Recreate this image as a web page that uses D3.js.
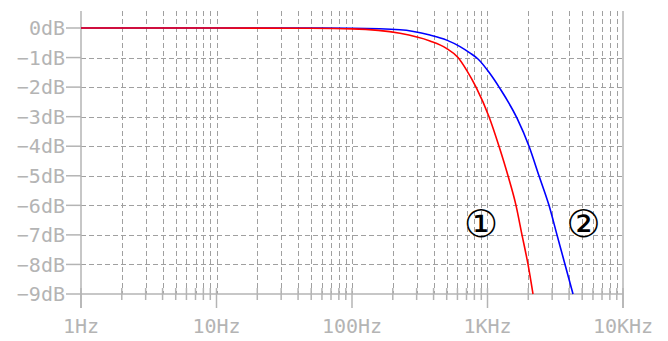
<!DOCTYPE html>
<html>
<head>
<meta charset="utf-8">
<script src="https://cdn.jsdelivr.net/npm/d3@7"></script>
<style>
    body { margin: 0; background: #fff; }
    svg { display: block; }
    .label { font-family: "DejaVu Sans Mono", monospace; font-size: 20px; fill: #b4b4b4; }
    .marker { font-family: "DejaVu Sans", sans-serif; font-size: 38px; fill: #000; }
</style>
</head>
<body>
<svg id="chart" width="668" height="341"></svg>
<script>
// decade ticks on the frequency axis
const freqTicks = [1, 10, 100, 1000, 10000];
const freqLabels = ["1Hz", "10Hz", "100Hz", "1KHz", "10KHz"];
const dbTicks = [0, -1, -2, -3, -4, -5, -6, -7, -8, -9];
const dbLabels = ["0dB", "\u22121dB", "\u22122dB", "\u22123dB", "\u22124dB", "\u22125dB", "\u22126dB", "\u22127dB", "\u22128dB", "\u22129dB"];

// curve 1 (red)
const freq1 = [1, 10, 50, 100, 226, 376, 494, 606, 706, 823, 1026, 1216, 1417, 1623, 1797, 1991, 2167];
const db1 = [0, 0, -0.01, -0.03, -0.18, -0.44, -0.68, -1, -1.45, -2, -3, -4, -5, -6, -7, -8, -9];

// curve 2 (blue)
const freq2 = [1, 10, 50, 100, 226, 376, 500, 627, 745, 851, 1026, 1237, 1651, 2025, 2399, 2843, 3257, 3733, 4276];
const db2 = [0, 0, 0, -0.01, -0.06, -0.24, -0.41, -0.63, -0.85, -1.05, -1.5, -2.05, -3.05, -4, -5, -6, -7, -8, -9];

const markerLabels = ["\u2460", "\u2461"];
const markerFreq = [896, 5110];
const markerDb = [-6.63, -6.63];

const svg = d3.select("#chart");

const LEFT = 81, RIGHT = 623, TOP = 28, BOTTOM = 294;
const GRID_TOP = 11, AXIS_BOTTOM = 308;

const x = d3.scaleLog().domain([1, 10000]).range([LEFT, RIGHT]);
const y = d3.scaleLinear().domain([0, -9]).range([TOP, BOTTOM]);

// all 1..9 x 10^k positions
const minorTicks = [];
for (let k = 0; k < 4; k++) {
    for (let m = 1; m < 10; m++) minorTicks.push(m * Math.pow(10, k));
}

const gridG = svg.append("g").attr("class", "grid");
const axisG = svg.append("g").attr("class", "axis");
const curveG = svg.append("g").attr("class", "curves");

gridG.selectAll("line.v").data(minorTicks.filter(d => d > 1)).enter()
    .append("line")
    .attr("class", "v")
    .attr("x1", d => Math.round(x(d)) + 0.5)
    .attr("x2", d => Math.round(x(d)) + 0.5)
    .attr("y1", GRID_TOP)
    .attr("y2", BOTTOM)
    .attr("stroke", "#a0a0a0")
    .attr("stroke-dasharray", "5,3");

gridG.selectAll("line.h").data(dbTicks.filter(d => d < 0 && d > -9)).enter()
    .append("line")
    .attr("class", "h")
    .attr("x1", LEFT)
    .attr("x2", RIGHT)
    .attr("y1", d => Math.round(y(d)) + 0.5)
    .attr("y2", d => Math.round(y(d)) + 0.5)
    .attr("stroke", "#a0a0a0")
    .attr("stroke-dasharray", "5,3");

const axisColor = "#b4b4b4";

// frame lines
axisG.append("line").attr("x1", LEFT).attr("x2", LEFT).attr("y1", GRID_TOP).attr("y2", AXIS_BOTTOM)
    .attr("stroke", axisColor).attr("stroke-width", 1.5);
axisG.append("line").attr("x1", RIGHT).attr("x2", RIGHT).attr("y1", GRID_TOP).attr("y2", AXIS_BOTTOM)
    .attr("stroke", axisColor).attr("stroke-width", 1.5);
axisG.append("line").attr("x1", LEFT).attr("x2", RIGHT).attr("y1", y(-9)).attr("y2", y(-9))
    .attr("stroke", axisColor).attr("stroke-width", 1.5);

// minor ticks on the frequency axis
axisG.selectAll("line.xminor").data(minorTicks.filter(d => freqTicks.indexOf(d) < 0)).enter()
    .append("line")
    .attr("class", "xminor")
    .attr("x1", d => x(d)).attr("x2", d => x(d))
    .attr("y1", BOTTOM - 6).attr("y2", BOTTOM + 6)
    .attr("stroke", axisColor).attr("stroke-width", 1.5);

axisG.selectAll("line.xmajor").data(freqTicks).enter()
    .append("line")
    .attr("class", "xmajor")
    .attr("x1", d => x(d)).attr("x2", d => x(d))
    .attr("y1", BOTTOM - 6).attr("y2", AXIS_BOTTOM)
    .attr("stroke", axisColor).attr("stroke-width", 1.5);

axisG.selectAll("text.xlabel").data(freqTicks).enter()
    .append("text")
    .attr("class", "label xlabel")
    .attr("x", d => x(d))
    .attr("y", 333)
    .attr("text-anchor", "middle")
    .text((d, i) => freqLabels[i]);

axisG.selectAll("line.ytick").data(dbTicks).enter()
    .append("line")
    .attr("class", "ytick")
    .attr("x1", LEFT - 15).attr("x2", LEFT)
    .attr("y1", d => y(d)).attr("y2", d => y(d))
    .attr("stroke", axisColor).attr("stroke-width", 1.5);

axisG.selectAll("text.ylabel").data(dbTicks).enter()
    .append("text")
    .attr("class", "label ylabel")
    .attr("x", LEFT - 16)
    .attr("y", d => y(d))
    .attr("dy", "0.36em")
    .attr("text-anchor", "end")
    .text((d, i) => dbLabels[i]);

const line = d3.line()
    .x(d => x(d[0]))
    .y(d => y(d[1]))
    .curve(d3.curveMonotoneX);

curveG.append("path")
    .attr("d", line(d3.zip(freq2, db2)))
    .attr("fill", "none")
    .attr("stroke", "blue")
    .attr("stroke-width", 1.6);

curveG.append("path")
    .attr("d", line(d3.zip(freq1, db1)))
    .attr("fill", "none")
    .attr("stroke", "red")
    .attr("stroke-width", 1.6);

curveG.selectAll("text.marker").data(markerLabels).enter()
    .append("text")
    .attr("class", "marker")
    .attr("x", (d, i) => x(markerFreq[i]))
    .attr("y", (d, i) => y(markerDb[i]))
    .attr("dy", "0.35em")
    .attr("text-anchor", "middle")
    .text(d => d);
</script>
</body>
</html>
